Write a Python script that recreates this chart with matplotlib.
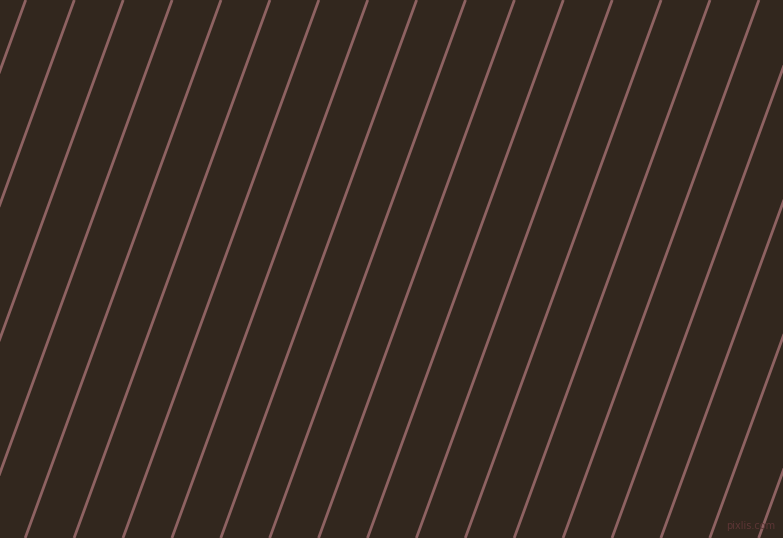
import numpy as np
import matplotlib
matplotlib.use("Agg")
import matplotlib.pyplot as plt

# x position where each stripe meets the top edge (pixels)
top_x = [25.7, 74.3, 123.2, 172.1, 221.0, 269.9, 318.8, 367.7, 416.6, 465.5,
         514.4, 563.3, 612.2, 661.1, 710.0, 758.9, 807.8, 856.7, 905.6, 954.5]
angle_deg = 70.0

width, height = 783, 538
bg = "#32271e"
line_color = "#8e6262"

fig = plt.figure(figsize=(width / 100, height / 100), dpi=100)
ax = fig.add_axes([0, 0, 1, 1])
ax.set_facecolor(bg)
fig.patch.set_facecolor(bg)

run = 1.0 / np.tan(np.radians(angle_deg))
ys = np.array([0, height])
for x0 in top_x:
    ax.plot(x0 - ys * run, ys, color=line_color, lw=2.0, solid_capstyle="butt")

ax.text(775, 531, "pixlis.com", color="#5c3535", fontsize=7,
        ha="right", va="bottom")

ax.set_xlim(0, width)
ax.set_ylim(height, 0)
ax.axis("off")

fig.savefig("out.png", dpi=100, facecolor=bg)
